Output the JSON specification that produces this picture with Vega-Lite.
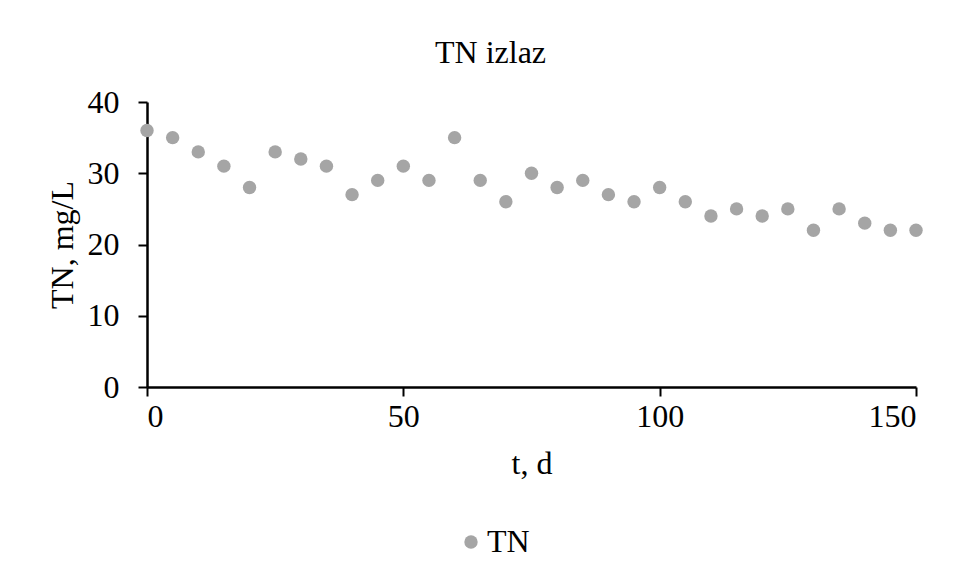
{
  "$schema": "https://vega.github.io/schema/vega-lite/v6.json",
  "width": 769,
  "height": 285,
  "autosize": "none",
  "padding": {"left": 147, "top": 102, "right": 48, "bottom": 194},
  "background": "white",
  "title": {"text": "TN izlaz", "font": "Liberation Serif", "fontSize": 32, "fontWeight": "normal", "color": "#000000", "anchor": "middle", "dx": -41, "offset": 16},
  "data": {"values": [
    {"t": 0, "TN": 36, "s": "TN"}, {"t": 5, "TN": 35, "s": "TN"}, {"t": 10, "TN": 33, "s": "TN"}, {"t": 15, "TN": 31, "s": "TN"},
    {"t": 20, "TN": 28, "s": "TN"}, {"t": 25, "TN": 33, "s": "TN"}, {"t": 30, "TN": 32, "s": "TN"}, {"t": 35, "TN": 31, "s": "TN"},
    {"t": 40, "TN": 27, "s": "TN"}, {"t": 45, "TN": 29, "s": "TN"}, {"t": 50, "TN": 31, "s": "TN"}, {"t": 55, "TN": 29, "s": "TN"},
    {"t": 60, "TN": 35, "s": "TN"}, {"t": 65, "TN": 29, "s": "TN"}, {"t": 70, "TN": 26, "s": "TN"}, {"t": 75, "TN": 30, "s": "TN"},
    {"t": 80, "TN": 28, "s": "TN"}, {"t": 85, "TN": 29, "s": "TN"}, {"t": 90, "TN": 27, "s": "TN"}, {"t": 95, "TN": 26, "s": "TN"},
    {"t": 100, "TN": 28, "s": "TN"}, {"t": 105, "TN": 26, "s": "TN"}, {"t": 110, "TN": 24, "s": "TN"}, {"t": 115, "TN": 25, "s": "TN"},
    {"t": 120, "TN": 24, "s": "TN"}, {"t": 125, "TN": 25, "s": "TN"}, {"t": 130, "TN": 22, "s": "TN"}, {"t": 135, "TN": 25, "s": "TN"},
    {"t": 140, "TN": 23, "s": "TN"}, {"t": 145, "TN": 22, "s": "TN"}, {"t": 150, "TN": 22, "s": "TN"}
  ]},
  "mark": {"type": "circle", "size": 180, "opacity": 1},
  "encoding": {
    "x": {"field": "t", "type": "quantitative", "title": "t, d",
      "scale": {"domain": [0, 150], "nice": false, "zero": true},
      "axis": {"values": [0, 50, 100, 150], "grid": false, "domainColor": "#000000", "domainWidth": 2.5, "tickColor": "#000000", "tickWidth": 2, "tickSize": 9,
        "labelFont": "Liberation Serif", "labelFontSize": 32, "labelColor": "#000000", "labelPadding": 5,
        "titleFont": "Liberation Serif", "titleFontSize": 32, "titleFontWeight": "normal", "titleColor": "#000000", "titlePadding": 16}},
    "y": {"field": "TN", "type": "quantitative", "title": "TN, mg/L",
      "scale": {"domain": [0, 40], "nice": false},
      "axis": {"values": [0, 10, 20, 30, 40], "grid": false, "domainColor": "#000000", "domainWidth": 2.5, "tickColor": "#000000", "tickWidth": 2, "tickSize": 9,
        "labelFont": "Liberation Serif", "labelFontSize": 32, "labelColor": "#000000", "labelPadding": 19,
        "titleFont": "Liberation Serif", "titleFontSize": 32, "titleFontWeight": "normal", "titleColor": "#000000", "titlePadding": 8}},
    "color": {"field": "s", "type": "nominal", "scale": {"range": ["#A5A5A5"]},
      "legend": {"title": null, "orient": "none", "legendX": 308, "legendY": 424, "symbolType": "circle", "symbolSize": 180, "symbolStrokeWidth": 0,
        "labelFont": "Liberation Serif", "labelFontSize": 32, "labelColor": "#000000", "labelOffset": 0}}
  },
  "config": {"view": {"stroke": null}}
}
